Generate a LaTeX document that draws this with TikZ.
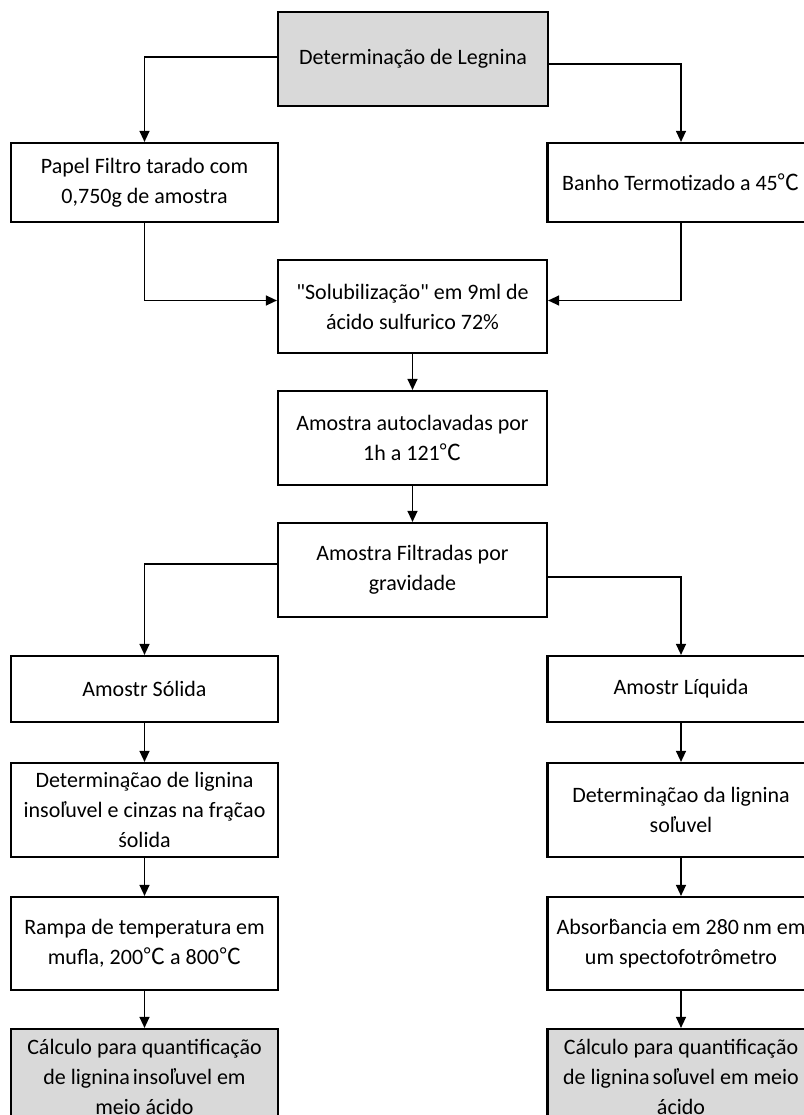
\documentclass[tikz,border=0pt]{standalone}
\usepackage{fontspec}
\setmainfont{Carlito}[Ligatures=TeXOff]
\newfontfamily\cjk{Noto Sans CJK SC}
\usetikzlibrary{arrows.meta}
\newcommand{\graus}{{\cjk ℃}}
% acentos soltos, como no original
\newcommand{\ced}[1]{\ooalign{#1\cr\hidewidth\kern2pt ¸\hidewidth}}
\newcommand{\til}[1]{\ooalign{#1\cr\hidewidth ˜\hidewidth}}
\newcommand{\circunf}[1]{\ooalign{#1\cr\hidewidth ˆ\hidewidth}}
\tikzstyle{mybox} = [draw=black, fill=white, line width=2.2pt,
    rectangle, align=center, inner sep=2pt,
    minimum width=267pt, minimum height=79pt,
    font=\fontsize{22}{30}\selectfont]
\tikzstyle{greybox} = [mybox, fill=black!15]
\tikzstyle{seta} = [draw=black, line width=1.3pt, -{Triangle[length=11pt,width=10pt]}]

\begin{document}
\begin{tikzpicture}[x=1pt,y=-1pt]
\useasboundingbox (0,0) rectangle (803,1115);
% topo e primeira linha
\node[greybox, minimum width=270pt, minimum height=94pt] (topo) at (413,59) {Determinação de Legnina};
\node[mybox] (papel) at (144.5,182.5) {Papel Filtro tarado com\\0,750g de amostra};
\node[mybox] (banho) at (681,182.5) {Banho Termotizado a 45\graus};
% coluna central
\node[mybox, minimum width=269pt, minimum height=93pt] (solub) at (412.5,306.5) {"Solubilização" em 9ml de\\ácido sulfurico 72\%};
\node[mybox, minimum width=269pt, minimum height=94pt] (autoc) at (412.5,438) {Amostra autoclavadas por\\1h a 121\graus};
\node[mybox, minimum width=269pt, minimum height=94pt] (filtr) at (412.5,570) {Amostra Filtradas por\\gravidade};
% fracao solida
\node[mybox, minimum height=66pt] (solida) at (144.5,689) {Amostr Sólida};
\node[mybox, minimum height=94pt] (detsol) at (144.5,810) {Determin\ced{a}\til{c}ao de lignina\\insol̓uvel e cinzas na fr\ced{a}\til{c}ao\\śolida};
\node[mybox, minimum height=93pt] (rampa) at (144.5,943.5) {Rampa de temperatura em\\mufla, 200\graus{} a 800\graus};
\node[greybox, minimum height=96pt] (calcins) at (144.5,1077) {Cálculo para quantificação\\de lignina\kern-2pt{} insol̓uvel em\\meio ácido};
% fracao liquida
\node[mybox, minimum height=66pt] (liquida) at (681,689) {Amostr Líquida};
\node[mybox, minimum height=94pt] (detliq) at (681,810) {Determin\ced{a}\til{c}ao da lignina\\sol̓uvel};
\node[mybox, minimum height=93pt] (absorb) at (681,943.5) {Absor\circunf{b}ancia em 280\,nm em\\um spectofotrômetro};
\node[greybox, minimum height=96pt] (calcsol) at (681,1077) {Cálculo para quantificação\\de lignina\kern-2pt{} sol̓uvel em meio\\ácido};

\draw[seta] ([yshift=2pt]topo.west) -| (papel.north);
\draw[seta] ([yshift=-5pt]topo.east) -| (banho.north);
\draw[seta] (papel.south) |- ([yshift=6pt]solub.west);
\draw[seta] (banho.south) |- ([yshift=6pt]solub.east);
\draw[seta] (solub.south) -- (autoc.north);
\draw[seta] (autoc.south) -- (filtr.north);
\draw[seta] ([yshift=6pt]filtr.west) -| (solida.north);
\draw[seta] ([yshift=-7pt]filtr.east) -| (liquida.north);
\foreach \a/\b in {solida/detsol, detsol/rampa, rampa/calcins, liquida/detliq, detliq/absorb, absorb/calcsol}
    \draw[seta] (\a.south) -- (\b.north);
\end{tikzpicture}
\end{document}
